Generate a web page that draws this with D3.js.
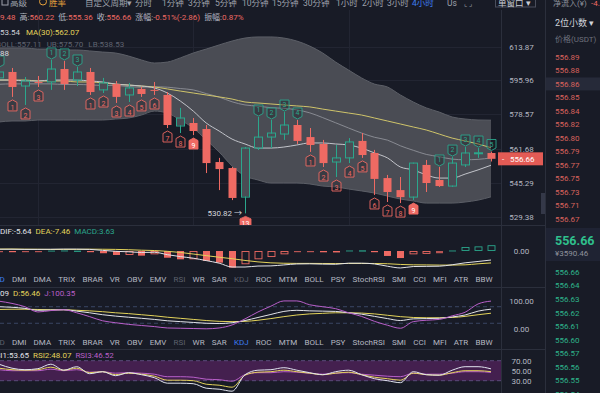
<!DOCTYPE html>
<html><head><meta charset="utf-8">
<script src="https://cdn.jsdelivr.net/npm/d3@7"></script>
<style>
html,body{margin:0;padding:0;background:#181b26;overflow:hidden}
svg{display:block;font-family:Roboto,"Noto Sans CJK SC",sans-serif}
</style></head><body>
<svg id="c" width="600" height="393"></svg>
<script>
// ---------------- DATA ----------------
const openP  = [597.3,600.4,593.1,595.2,595.2,601.96,596.2,600.4,591.1,594.1,588.5,591.6,591.1,588.5,572.8,574.3,571.3,555.1,552.2,538.4,561.9,567.3,568.8,573.3,567.3,563.9,555.1,557.1,565.4,559.5,547.4,541.7,538.4,553.7,546.5,543.6,553.7,559.3,559.48];
const highP  = [602.5,602.5,597.8,598.3,606.7,606.2,603.0,602.5,597.3,595.7,594.7,592.6,595.2,590.0,581.9,576.8,573.3,557.1,552.7,562.4,577.3,575.8,579.8,575.8,571.8,565.9,563.4,566.8,569.3,561.0,548.9,547.9,554.8,556.1,552.7,557.5,562.4,561.9,560.22];
const lowP   = [595.2,587.5,583.4,592.6,591.1,591.1,593.1,588.5,589.5,584.4,584.9,587.5,588.5,571.8,569.3,568.3,549.8,541.7,537.0,530.82,561.0,561.9,565.9,563.9,560.0,552.7,547.9,554.6,557.1,539.4,536.1,535.6,537.0,540.8,543.2,543.2,552.7,557.1,555.36];
const closeP = [600.4,592.6,595.7,595.0,601.96,594.1,600.4,590.0,594.7,587.5,592.1,589.0,590.9,573.3,576.8,570.3,554.6,551.7,538.0,561.9,567.3,569.3,573.3,565.4,563.4,554.6,557.1,564.9,558.5,547.0,540.8,538.4,554.6,545.05,543.6,554.6,559.5,559.6,556.66];

const bollUp  = [613.1,613.1,613.1,612.5,612.5,612.0,612.0,611.5,610.9,610.4,608.8,606.7,605.1,605.6,607.8,610.4,612.5,614.7,616.8,618.4,619.0,619.0,618.4,616.8,614.1,610.4,605.6,601.4,597.3,594.1,592.6,588.5,584.9,581.9,579.8,577.3,576.3,575.8,575.70];
const bollMid = [594.0,594.2,594.2,594.2,594.2,593.9,593.9,593.7,593.4,593.4,592.8,592.5,592.7,592.5,591.8,591.1,589.2,587.4,585.0,583.4,582.8,582.0,581.7,580.9,579.4,577.0,574.4,571.8,569.3,567.2,565.8,563.0,560.8,558.8,557.7,556.5,556.2,556.4,557.11];
const bollLow = [574.8,575.3,575.3,575.8,575.8,575.8,575.8,575.8,575.8,576.3,576.8,578.3,580.3,579.3,575.8,571.8,565.9,560.0,553.2,548.4,546.5,545.05,545.05,545.05,544.6,543.6,543.2,542.2,541.3,540.3,538.9,537.5,536.6,535.6,535.6,535.6,536.1,537.0,538.53];
const maFast  = [596.2,596.2,595.7,595.7,596.2,596.2,596.2,595.7,595.2,594.1,593.6,593.1,592.1,589.5,585.4,580.3,574.3,570.3,566.3,563.9,561.9,561.9,562.4,563.4,564.4,564.4,563.9,563.4,561.9,559.5,557.1,552.7,551.3,548.9,547.4,547.4,549.3,551.3,553.54];
const ma30    = [596.2,596.2,596.2,595.7,595.7,595.7,595.2,595.2,594.7,594.1,593.6,593.1,592.6,591.6,590.5,589.5,588.5,587.5,586.4,584.9,584.4,583.9,583.4,582.9,582.4,581.3,580.3,579.3,578.3,576.8,575.3,573.8,572.3,570.8,568.8,566.8,565.4,563.9,562.07];

const macdHist = [-0.3,-0.4,-0.3,-0.2,0.3,0.4,0.2,-0.3,-1.4,-2.5,-2.5,-2.9,-2.1,-4.2,-5.2,-5.2,-6.2,-7.3,-10.4,-8.3,-5.2,-3.8,-2.1,-0.7,-0.5,-0.8,-0.9,0.4,0.4,-0.6,-3.1,-4.4,-2.1,-1.8,-1.4,0.4,2.5,2.9,3.63];
const macdDif  = [1.1,1.1,1.0,1.0,1.1,1.2,1.2,1.0,0.4,-0.2,-0.5,-0.9,-0.8,-2.3,-3.5,-4.5,-6.0,-7.6,-10.0,-10.0,-9.4,-9.3,-8.7,-8.1,-8.0,-8.2,-8.3,-7.6,-7.6,-8.1,-9.5,-10.6,-9.7,-9.6,-9.5,-8.6,-7.4,-6.55,-5.64];
const macdDea  = [1.2,1.25,1.15,1.1,0.95,1.0,1.0,1.15,1.1,1.0,0.8,0.5,0.3,-0.2,-0.9,-1.9,-2.9,-3.9,-4.8,-5.9,-6.8,-7.4,-7.65,-7.75,-7.75,-7.8,-7.85,-7.8,-7.8,-7.8,-7.95,-8.4,-8.65,-8.7,-8.8,-8.8,-8.65,-8.0,-7.46];

const kdjK = [80,78,74,67,68,69,64,58,51,46,42,38,34,29,26,23,20,19,22,30,41,52,63,67,65,64,63,58,53,45,37,30,36,37,38,43,50,64,71.09];
const kdjD = [70,71,71,70,69,69,67,65,62,58,55,51,47,42,38,34,30,27,26,27,31,37,44,50,54,56,58,58,57,54,49,44,41,40,40,41,45,51,56.46];
const kdjJ = [100,92,80,61,66,69,58,44,29,22,16,12,8,3,2,1,0,3,14,36,61,82,101,101,87,80,73,58,45,27,13,2,26,31,34,47,60,90,100.35];

const rsi1 = [63,55,52,54,63,51,58,44,48,40,46,42,36,25,25,24,15,13,9,42,51,52,56,51,46,42,48,51,42,34,30,26,48,42,41,51,58,58,53.65];
const rsi2 = [55,52,51,52,57,51,55,46,48,42,45,43,39,31,31,30,23,21,17,41,47,48,51,48,45,42,45,47,42,37,34,31,45,42,41,46,50,50,48.07];
const rsi3 = [52,50,50,50,53,50,52,47,48,45,46,45,43,38,38,37,33,32,29,42,46,46,48,47,45,43,45,46,43,41,39,38,45,43,43,45,48,48,46.52];

const priceTicks = [613.87,595.96,578.57,561.68,545.29,529.38];
const tdUp   = [[0,""],[4,"1"],[5,"2"],[6,"3"],[20,"1"],[21,"2"],[22,"3"],[23,"4"],[34,"1"],[35,"2"],[36,"3"],[37,"4"],[38,"5"]];
const tdDown = [[1,"1"],[2,"2"],[3,"3"],[7,"1"],[8,"2"],[9,"3"],[10,"4"],[11,"5"],[12,"6"],[13,"7"],[14,"8"],[15,"9"],[19,"13"],
                [24,"1"],[25,"2"],[26,"3"],[27,"4"],[28,"5"],[29,"6"],[30,"7"],[31,"8"],[32,"9"]];
const gridIdx = [3,15,27];

const askPrices = [556.89,556.88,556.86,556.85,556.84,556.82,556.80,556.79,556.77,556.75,556.73,556.71,556.67];
const bidPrices = [556.66,556.64,556.63,556.62,556.61,556.60,556.57,556.56,556.55,556.54];
const lastPrice = 556.66, lastCny = "¥3590.46";

const topTabs = ["分时","1分钟","3分钟","5分钟","10分钟","15分钟","30分钟","1小时","2小时","3小时","4小时"];
const indTabs = ["MACD","DMI","DMA","TRIX","BRAR","VR","OBV","EMV","RSI","WR","SAR","KDJ","ROC","MTM","BOLL","PSY","StochRSI","SMI","CCI","MFI","ATR","BBW"];

// ---------------- STYLE ----------------
const C = {bg:'#181b26', red:'#ee6a63', green:'#2ba68c', text:'#b5b8c2', dim:'#5f6370', yellow:'#e3d35a',
  band:'#4a4c54', bandEdge:'#5c5f67', grid:'#222532', sep:'#2b2f3c', purple:'#b85fc9', blue:'#3d7bf0',
  white:'#e2e3e8', ma30:'#cfc46a', maFast:'#c2c4ca', mid:'#8e9199'};
const FS = 8;

const svg = d3.select('#c');
svg.append('rect').attr('width',600).attr('height',393).attr('fill',C.bg);
const defs = svg.append('defs');
function clip(id,x0,y0,w,h){defs.append('clipPath').attr('id',id).append('rect').attr('x',x0).attr('y',y0).attr('width',w).attr('height',h);}
clip('cMain',0,10,501,215); clip('cMacd',0,226,501,61); clip('cKdj',0,288,501,60); clip('cRsi',0,350,501,43);

const K = d3.range(openP.length);
const x = d3.scaleLinear().domain([1,38]).range([12,491]);
const y = d3.scaleLog().domain([529.38,613.87]).range([216.5,46.5]);
const yM = d3.scaleLinear().domain([-13,9]).range([251+13*1.6, 251-9*1.6]);
const yK = d3.scaleLinear().domain([0,100]).range([328.8,301.2]);
const yR = d3.scaleLinear().domain([30,70]).range([380.7,360.7]);

const tmp = svg.append('text').attr('font-size',FS).attr('x',-999).attr('y',-999);
function measure(s,size){tmp.attr('font-size',size||FS).text(s);return tmp.node().getComputedTextLength();}

// ---------------- MAIN PANEL ----------------
const gm = svg.append('g').attr('clip-path','url(#cMain)');
gm.selectAll('line.hg').data(priceTicks).join('line').attr('x1',0).attr('x2',501)
  .attr('y1',d=>Math.round(y(d))+0.5).attr('y2',d=>Math.round(y(d))+0.5).attr('stroke',C.grid);
gm.selectAll('line.vg').data(gridIdx).join('line').attr('x1',d=>Math.round(x(d))+0.5).attr('x2',d=>Math.round(x(d))+0.5)
  .attr('y1',10).attr('y2',225).attr('stroke',C.grid);
const band = d3.area().x(k=>x(k)).y0(k=>y(bollLow[k])).y1(k=>y(bollUp[k])).curve(d3.curveMonotoneX);
gm.append('path').attr('d',band(K)).attr('fill',C.band);
const line = (arr,sc)=>d3.line().x(k=>x(k)).y(k=>sc(arr[k])).curve(d3.curveMonotoneX)(K);
gm.append('path').attr('d',line(bollUp,y)).attr('fill','none').attr('stroke',C.bandEdge);
gm.append('path').attr('d',line(bollLow,y)).attr('fill','none').attr('stroke',C.bandEdge);
gm.append('path').attr('d',line(bollMid,y)).attr('fill','none').attr('stroke',C.mid).attr('stroke-width',0.9);
gm.append('path').attr('d',line(ma30,y)).attr('fill','none').attr('stroke',C.ma30).attr('stroke-width',1);
gm.append('path').attr('d',line(maFast,y)).attr('fill','none').attr('stroke',C.maFast).attr('stroke-width',1);

const cw = 8;
const cg = gm.append('g');
K.forEach(k=>{
  const up = closeP[k] >= openP[k];
  const col = up ? C.green : C.red;
  const cx = Math.round(x(k))+0.5;
  cg.append('line').attr('x1',cx).attr('x2',cx).attr('y1',y(highP[k])).attr('y2',y(lowP[k])).attr('stroke',col);
  const top = y(Math.max(openP[k],closeP[k])), bot = y(Math.min(openP[k],closeP[k]));
  const h = Math.max(1, bot-top);
  if(up){
    cg.append('rect').attr('x',cx-cw/2+0.5).attr('y',top+0.5).attr('width',cw-1).attr('height',Math.max(0,h-1))
      .attr('fill',C.band).attr('opacity',h>2?1:0);
    cg.append('rect').attr('x',cx-cw/2).attr('y',top).attr('width',cw).attr('height',h)
      .attr('fill','none').attr('stroke',col).attr('stroke-width',1);
  } else {
    cg.append('rect').attr('x',cx-cw/2).attr('y',top).attr('width',cw).attr('height',h).attr('fill',col);
  }
});

// TD markers
function marker(g,k,label,dir,filled){
  const cx = Math.round(x(k))+0.5;
  const w = label.length>1 ? 11 : 9, hw=w/2;
  let p, ty;
  if(dir==='down'){ // below candle, pointing up
    const t = y(lowP[k])+3;
    p = `M${cx},${t}L${cx+hw},${t+2.5}L${cx+hw},${t+11}L${cx-hw},${t+11}L${cx-hw},${t+2.5}Z`;
    ty = t+9.6;
  } else {
    const b = y(highP[k])-1;
    p = `M${cx},${b}L${cx+hw},${b-2.5}L${cx+hw},${b-11}L${cx-hw},${b-11}L${cx-hw},${b-2.5}Z`;
    ty = b-3.8;
  }
  const col = dir==='down'?C.red:C.green;
  g.append('path').attr('d',p).attr('fill',filled?col:'rgba(26,28,38,0.35)').attr('stroke',col).attr('stroke-width',0.9);
  if(label) g.append('text').attr('x',cx).attr('y',ty).attr('text-anchor','middle').attr('font-size',7)
    .attr('fill',filled?'#fff':col).text(label);
}
const mg = gm.append('g');
tdUp.forEach(([k,l])=>marker(mg,k,l,'up',false));
tdDown.forEach(([k,l])=>marker(mg,k,l,'down',l==='9'||l==='13'));

// low / high labels
const kLow = d3.minIndex(lowP);
gm.append('text').attr('x',x(kLow)-3).attr('y',y(lowP[kLow])+3).attr('text-anchor','end')
  .attr('font-size',FS).attr('fill','#d6d8de').text(lowP[kLow].toFixed(2)+' →');
gm.append('text').attr('x',x(0)+10).attr('y',y(608.88)).attr('text-anchor','end')
  .attr('font-size',FS).attr('fill','#d6d8de').text('608.88');

// headers main
function flow(g,x0,yb,parts,gap,size){
  let xx=x0; parts.forEach(p=>{ if(p.gap!==undefined) {xx+=p.gap; return;}
    const t=g.append('text').attr('x',xx).attr('y',yb).attr('font-size',size||FS).attr('fill',p.c).text(p.t);
    xx += t.node().getComputedTextLength() + (gap||0);});
}
const hg = svg.append('g');
const l1 = [{t:'开:',c:C.text},{t:'559.48',c:C.red},{gap:4},{t:'高:',c:C.text},{t:'560.22',c:C.red},{gap:4},
  {t:'低:',c:C.text},{t:'555.36',c:C.red},{gap:4},{t:'收:',c:C.text},{t:'556.66',c:C.red},{gap:4},
  {t:'涨幅:',c:C.text},{t:'-0.51%(-2.86)',c:C.red},{gap:4},{t:'振幅:',c:C.text},{t:'0.87%',c:C.red}];
flow(hg,-measure('开:55'),19.5,l1,0);
flow(hg,20-measure('MA(10):553.54'),34.5,[{t:'MA(10):553.54',c:'#cfd1d8'},{gap:6},{t:'MA(30):562.07',c:C.yellow}],0);
flow(hg,-4,46.5,[{t:'BOLL:557.11',c:C.dim},{gap:5},{t:'UB:575.70',c:C.dim},{gap:5},{t:'LB:538.53',c:C.dim}],0);

// ---------------- MACD PANEL ----------------
const gmc = svg.append('g').attr('clip-path','url(#cMacd)');
K.forEach(k=>{
  const v = macdHist[k], pv = k>0?macdHist[k-1]:v;
  const neg = v<0, col = neg?C.red:C.green;
  const hollow = neg ? (v>=pv) : (v>pv);
  const cx = Math.round(x(k))+0.5;
  const y0 = yM(0), y1 = yM(v);
  const top = Math.min(y0,y1), h = Math.max(1.2, Math.abs(y1-y0));
  if(hollow && h>2.5){
    gmc.append('rect').attr('x',cx-3.5).attr('y',top+0.5).attr('width',7).attr('height',h-1).attr('fill','none').attr('stroke',col).attr('stroke-width',0.9);
  } else {
    gmc.append('rect').attr('x',cx-3.5).attr('y',top).attr('width',7).attr('height',h).attr('fill',col).attr('opacity',hollow?0.75:1);
  }
});
gmc.append('path').attr('d',line(macdDea,yM)).attr('fill','none').attr('stroke',C.yellow).attr('stroke-width',1);
gmc.append('path').attr('d',line(macdDif,yM)).attr('fill','none').attr('stroke',C.white).attr('stroke-width',1);
flow(hg,0,234,[{t:'DIF:-5.64',c:C.white},{gap:4},{t:'DEA:-7.46',c:C.yellow},{gap:4},{t:'MACD:3.63',c:C.green}],0);

// ---------------- KDJ PANEL ----------------
const gk = svg.append('g').attr('clip-path','url(#cKdj)');
[80,20].forEach(v=>gk.append('line').attr('x1',0).attr('x2',501).attr('y1',yK(v)).attr('y2',yK(v))
  .attr('stroke','#3a4664').attr('stroke-dasharray','4,3'));
gk.append('path').attr('d',line(kdjD,yK)).attr('fill','none').attr('stroke',C.yellow).attr('stroke-width',1);
gk.append('path').attr('d',line(kdjK,yK)).attr('fill','none').attr('stroke',C.white).attr('stroke-width',1);
gk.append('path').attr('d',line(kdjJ,yK)).attr('fill','none').attr('stroke',C.purple).attr('stroke-width',1);
flow(hg,9-measure('K:71.09'),295.5,[{t:'K:71.09',c:C.white},{gap:4},{t:'D:56.46',c:C.yellow},{gap:4},{t:'J:100.35',c:C.purple}],0);

// ---------------- RSI PANEL ----------------
const gr = svg.append('g').attr('clip-path','url(#cRsi)');
gr.append('rect').attr('x',0).attr('width',501).attr('y',yR(70)).attr('height',yR(30)-yR(70)).attr('fill','#44204f');
[70,30].forEach(v=>gr.append('line').attr('x1',0).attr('x2',501).attr('y1',yR(v)).attr('y2',yR(v))
  .attr('stroke','#5a4a7a').attr('stroke-dasharray','4,3'));
gr.append('path').attr('d',line(rsi3,yR)).attr('fill','none').attr('stroke',C.purple).attr('stroke-width',1);
gr.append('path').attr('d',line(rsi2,yR)).attr('fill','none').attr('stroke',C.yellow).attr('stroke-width',1);
gr.append('path').attr('d',line(rsi1,yR)).attr('fill','none').attr('stroke','#dfe3ee').attr('stroke-width',1);
flow(hg,29-measure('RSI1:53.65'),357.5,[{t:'RSI1:53.65',c:C.white},{gap:4},{t:'RSI2:48.07',c:C.yellow},{gap:4},{t:'RSI3:46.52',c:C.purple}],0);

// ---------------- TAB ROWS ----------------
function tabRow(yb, active){
  const g = svg.append('g').attr('font-size',FS);
  const widths = indTabs.map(t=>measure(t));
  const sum = d3.sum(widths.slice(1));
  const gap = (492.5-12-sum)/(indTabs.length-2);
  let xx = 12;
  indTabs.forEach((t,i)=>{
    let col = C.text;
    if(t===active) col = C.blue; else if(t==='RSI'||t==='KDJ'||(t==='MACD')) col = '#5d616d';
    if(i===0){ g.append('text').attr('x',12-gap).attr('y',yb).attr('text-anchor','end').attr('fill',col).text(t); return; }
    g.append('text').attr('x',xx).attr('y',yb).attr('fill',col).text(t);
    xx += widths[i]+gap;
  });
}
tabRow(281.5,'MACD');
tabRow(344.5,'KDJ');

// ---------------- SEPARATORS / AXIS ----------------
const sg = svg.append('g').attr('stroke',C.sep);
[225.5,287.5,349.5].forEach(v=>sg.append('line').attr('x1',0).attr('x2',545).attr('y1',v).attr('y2',v));
sg.append('line').attr('x1',501.5).attr('x2',501.5).attr('y1',10).attr('y2',393);
sg.append('line').attr('x1',545.5).attr('x2',545.5).attr('y1',0).attr('y2',393);

const ag = svg.append('g').attr('font-size',FS).attr('fill',C.text).attr('text-anchor','middle');
priceTicks.forEach(p=>ag.append('text').attr('x',521.5).attr('y',y(p)+3).text(p.toFixed(2)));
ag.append('text').attr('x',521.5).attr('y',yM(0)+3).text('0.00');
ag.append('text').attr('x',521.5).attr('y',yK(100)+3).text('100.00');
ag.append('text').attr('x',521.5).attr('y',yK(0)+3).text('0.00');
[70,50,30,0].forEach(v=>ag.append('text').attr('x',521.5).attr('y',395.7-0.5*v+3).text(v.toFixed(2)));
// last price badge
const yl = y(lastPrice);
svg.append('rect').attr('x',498).attr('y',yl-6.5).attr('width',45).attr('height',13).attr('fill','#e35b55');
svg.append('text').attr('x',502).attr('y',yl+3).attr('font-size',FS).attr('fill','#fff').text('-');
svg.append('text').attr('x',510).attr('y',yl+3).attr('font-size',FS).attr('fill','#fff').text(lastPrice.toFixed(2));
svg.append('rect').attr('x',541).attr('y',193).attr('width',4).attr('height',21).attr('fill','#343848');

// ---------------- TOP BAR ----------------
const tb = svg.append('g').attr('font-size',8.5).attr('fill','#9ea1ab');
tb.append('rect').attr('x',2).attr('y',-2).attr('width',6).attr('height',7).attr('fill','none').attr('stroke','#9ea1ab');
tb.append('text').attr('x',10).attr('y',5.5).text('高级');
tb.append('circle').attr('cx',43).attr('cy',1.5).attr('r',3.5).attr('fill','none').attr('stroke','#e6a23c');
tb.append('text').attr('x',49).attr('y',5.5).attr('fill','#e6a23c').text('胜率');
tb.append('text').attr('x',85).attr('y',5.5).text('自定义周期');
tb.append('text').attr('x',127).attr('y',5.5).text('▾');
const tabX = [135,162,188,215,242,272,303,336,362,387,412];
topTabs.forEach((t,i)=>tb.append('text').attr('x',tabX[i]).attr('y',5.5).attr('fill',t==='4小时'?C.blue:'#9ea1ab').text(t));
tb.append('text').attr('x',447).attr('y',5.5).text('Us');
tb.append('text').attr('x',464).attr('y',5.5).attr('font-size',7).text('⌞ ⌟');
tb.append('rect').attr('x',495.5).attr('y',-3).attr('width',40).attr('height',10).attr('fill','none').attr('stroke','#4a4e5c');
tb.append('text').attr('x',498).attr('y',5.5).attr('fill','#c9ccd4').text('单窗口 ▾');

// ---------------- ORDER BOOK ----------------
const ob = svg.append('g').attr('font-size',FS);
ob.append('text').attr('x',553).attr('y',6).attr('fill','#8e919b').text('净流入(¥)');
ob.append('text').attr('x',591).attr('y',6).attr('fill',C.red).text('-4.4');
ob.append('text').attr('x',555).attr('y',26).attr('font-size',9).attr('fill','#d0d3da').text('2位小数 ▾');
ob.append('text').attr('x',555).attr('y',41.5).attr('fill','#6e717c').text('价格(USDT)');
const yAsk = d3.scaleLinear().domain([0,askPrices.length-1]).range([57,218.6]);
const yBid = d3.scaleLinear().domain([0,bidPrices.length-1]).range([271.8,394]);
ob.append('rect').attr('x',546).attr('y',yAsk(2)-6.5).attr('width',54).attr('height',13).attr('fill','#262a39');
askPrices.forEach((p,i)=>ob.append('text').attr('x',555).attr('y',yAsk(i)+3).attr('fill','#d9625c').text(p.toFixed(2)));
ob.append('rect').attr('x',546).attr('y',228).attr('width',54).attr('height',33).attr('fill','#1f2333');
ob.append('text').attr('x',555).attr('y',244.5).attr('font-size',12.5).attr('font-weight','bold').attr('fill','#2fbf8c').text(lastPrice.toFixed(2));
ob.append('text').attr('x',555).attr('y',256).attr('fill','#8e919b').text(lastCny);
bidPrices.forEach((p,i)=>ob.append('text').attr('x',555).attr('y',yBid(i)+3).attr('fill','#2eb48a').text(p.toFixed(2)));
tmp.remove();
</script>
</body></html>
